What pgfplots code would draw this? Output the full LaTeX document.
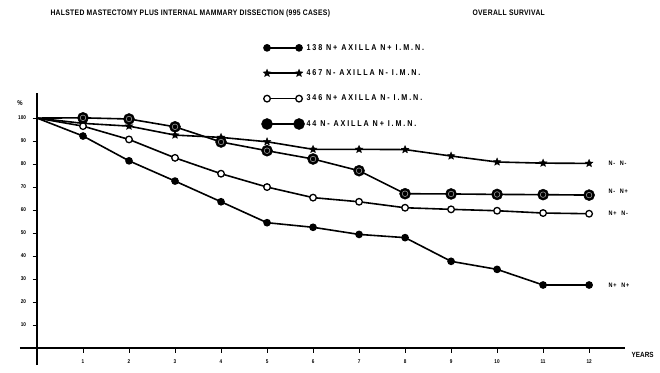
\documentclass[border=0pt]{standalone}
\usepackage{pgfplots}
\pgfplotsset{compat=1.18}
\usepackage{pgfplotstable}
\usepackage{fontspec}
\setmainfont{Liberation Sans}[FakeStretch=0.85]
\usetikzlibrary{plotmarks}

\pgfdeclareplotmark{fstar}{%
  \pgfpathmoveto{\pgfqpointpolar{90}{\pgfplotmarksize}}%
  \pgfpathlineto{\pgfqpointpolar{126}{0.45\pgfplotmarksize}}%
  \pgfpathlineto{\pgfqpointpolar{162}{\pgfplotmarksize}}%
  \pgfpathlineto{\pgfqpointpolar{198}{0.45\pgfplotmarksize}}%
  \pgfpathlineto{\pgfqpointpolar{234}{\pgfplotmarksize}}%
  \pgfpathlineto{\pgfqpointpolar{270}{0.45\pgfplotmarksize}}%
  \pgfpathlineto{\pgfqpointpolar{306}{\pgfplotmarksize}}%
  \pgfpathlineto{\pgfqpointpolar{342}{0.45\pgfplotmarksize}}%
  \pgfpathlineto{\pgfqpointpolar{18}{\pgfplotmarksize}}%
  \pgfpathlineto{\pgfqpointpolar{54}{0.45\pgfplotmarksize}}%
  \pgfpathclose
  \pgfusepathqfillstroke}

\pgfplotstableread{
x y
0 100
1 92.2
2 81.4
3 72.6
4 63.6
5 54.5
6 52.5
7 49.4
8 48.0
9 37.7
10 34.2
11 27.4
12 27.4
}\pp
\pgfplotstableread{
x y
0 100
1 97.7
2 96.5
3 92.6
4 91.6
5 89.7
6 86.4
7 86.4
8 86.3
9 83.5
10 80.9
11 80.4
12 80.3
}\mm
\pgfplotstableread{
x y
0 100
1 96.5
2 90.7
3 82.7
4 75.8
5 70.0
6 65.4
7 63.6
8 61.0
9 60.3
10 59.7
11 58.7
12 58.4
}\pm
\pgfplotstableread{
x y
0 100
1 100.1
2 99.6
3 96.2
4 89.6
5 85.8
6 82.2
7 77.1
8 67.1
9 67.0
10 66.8
11 66.7
12 66.5
}\mp

\begin{document}
\begin{tikzpicture}[x=1bp,y=1bp]
\useasboundingbox (0,0) rectangle (660,372);
\begin{axis}[
  at={(37bp,24bp)}, anchor=origin,
  scale only axis, width=605bp, height=272bp,
  xmin=-0.37, xmax=12.78, ymin=-7.4, ymax=110.9,
  axis lines=middle, axis line style={-},
  x axis line style={line width=2.6bp},
  y axis line style={line width=1.6bp},
  xtick={1,...,12}, ytick={10,20,...,100},
  tick align=outside, major tick length=4.5bp,
  tick style={black, line width=1bp},
  ticklabel style={font=\bfseries\fontsize{5.5}{6}\selectfont},
  /pgf/number format/assume math mode=true,
  xticklabel style={yshift=-4bp},
  yticklabel style={xshift=-3bp},
  clip=false,
  legend cell align=left,
  legend style={at={(0.394,1.195)}, anchor=north west, draw=none, fill=none,
    font=\bfseries\fontsize{8.5}{9}\selectfont\addfontfeature{LetterSpace=22}, row sep=14bp},
  legend image code/.code={\draw[#1, line width=1.6bp, mark repeat=1, mark phase=1] plot coordinates {(0bp,0bp) (32bp,0bp)};},
  every axis plot/.append style={black, line width=1.6bp, mark phase=2, mark repeat=1},
]
\addplot[mark=*, mark size=3bp, mark options={solid}] table {\pp};
\addlegendentry{138 N+ AXILLA N+ I.M.N.}
\addplot[mark=fstar, mark size=4bp, mark options={solid, line width=0.4bp}] table {\mm};
\addlegendentry{467 N- AXILLA N- I.M.N.}
\addplot[mark=*, mark size=3.3bp, mark options={solid, fill=white, line width=1.3bp}] table {\pm};
\addlegendentry{346 N+ AXILLA N- I.M.N.}
\addplot[mark=*, mark size=5.5bp, mark options={solid, fill=black, draw=black, line width=0.5bp}] table {\mp};
\addlegendentry{44 N- AXILLA N+ I.M.N.}
\addplot[only marks, mark=o, mark size=2.8bp, mark options={draw=white!60!black, line width=0.6bp}, forget plot] table {\mp};

\node[anchor=west, font=\bfseries\fontsize{6.5}{7}\selectfont\addfontfeature{LetterSpace=12}] at (axis cs:12.35,80.3) {N- \ N-};
\node[anchor=west, font=\bfseries\fontsize{6.5}{7}\selectfont\addfontfeature{LetterSpace=12}] at (axis cs:12.35,68.0) {N- \ N+};
\node[anchor=west, font=\bfseries\fontsize{6.5}{7}\selectfont\addfontfeature{LetterSpace=12}] at (axis cs:12.35,58.6) {N+ \ N-};
\node[anchor=west, font=\bfseries\fontsize{6.5}{7}\selectfont\addfontfeature{LetterSpace=12}] at (axis cs:12.35,27.4) {N+ \ N+};
\node[anchor=west, font=\bfseries\fontsize{7.5}{8}\selectfont] at (axis cs:12.85,-3) {YEARS};
\node[font=\bfseries\fontsize{7}{8}\selectfont] at (axis cs:-0.37,106.5) {\%};
\end{axis}
\node[anchor=west, font=\bfseries\fontsize{8}{9}\selectfont\addfontfeature{LetterSpace=4}] at (47,359) {HALSTED MASTECTOMY PLUS INTERNAL MAMMARY DISSECTION (995 CASES)};
\node[anchor=west, font=\bfseries\fontsize{8}{9}\selectfont\addfontfeature{LetterSpace=4}] at (469,359) {OVERALL SURVIVAL};
\end{tikzpicture}
\end{document}
